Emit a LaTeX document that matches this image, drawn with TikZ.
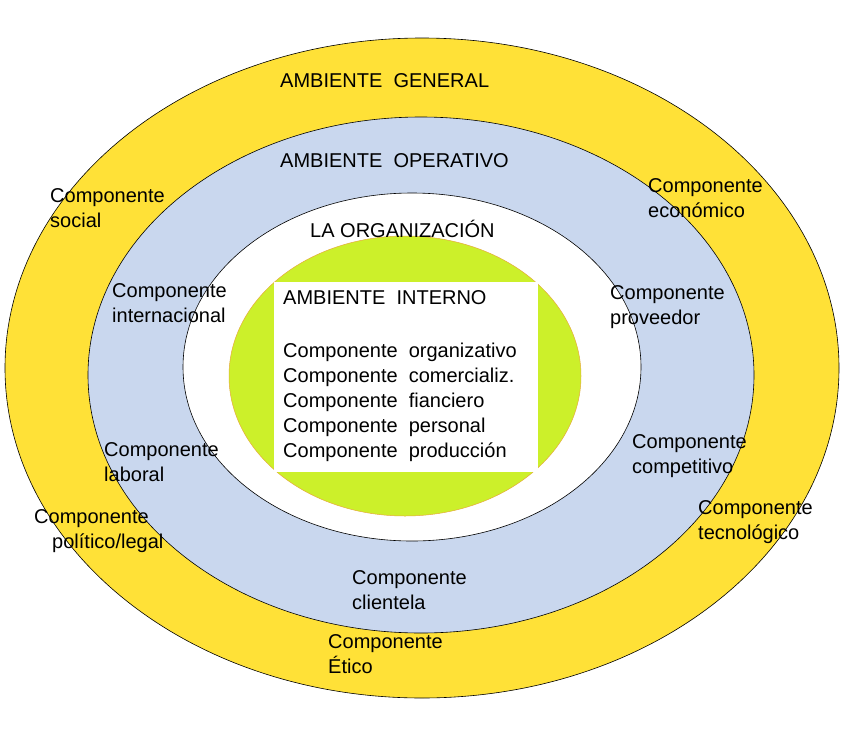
\documentclass[tikz,border=0pt]{standalone}
\usepackage{fontspec}
\setmainfont{Liberation Sans}
\begin{document}
\begin{tikzpicture}[x=1pt,y=-1pt,
  lbl/.style={anchor=north west,align=left,inner sep=0pt,font=\fontsize{20}{25}\selectfont},
  ring/.style={draw=black,line width=0.6pt}]
\useasboundingbox (0,0) rectangle (854,750);
\fill[white] (0,0) rectangle (854,750);
\draw[ring,fill={rgb,255:red,255;green,225;blue,55}] (422,368) ellipse [x radius=417,y radius=330];
\draw[ring,fill={rgb,255:red,201;green,215;blue,238}] (421,375) ellipse [x radius=333,y radius=258];
\draw[ring,fill=white] (412,367) ellipse [x radius=229,y radius=174];
\draw[draw={rgb,255:red,230;green,170;blue,60},line width=0.5pt,fill={rgb,255:red,204;green,240;blue,42}] (405,376) ellipse [x radius=176,y radius=140];
\fill[white] (274,282) rectangle (538,472);
\node[lbl] (ag) at (280,73) {AMBIENTE\ \ GENERAL};
\node[lbl] (ao) at (280,153) {AMBIENTE\ \ OPERATIVO};
\node[lbl] (lo) at (310,220) {LA ORGANIZACIÓN};
\node[lbl] (ai) at (283,290) {AMBIENTE\ \ INTERNO\\[1.4em]
Componente\ \ organizativo\\Componente\ \ comercializ.\\Componente\ \ fianciero\\Componente\ \ personal\\Componente\ \ producción};
\node[lbl] (cs) at (50,188) {Componente\\social};
\node[lbl] (ce) at (648,178) {Componente\\económico};
\node[lbl] (ci) at (112,283) {Componente\\internacional};
\node[lbl] (cp) at (610,285) {Componente\\proveedor};
\node[lbl] (cl) at (104,442) {Componente\\laboral};
\node[lbl] (cc) at (632,434) {Componente\\competitivo};
\node[lbl] (ct) at (698,500) {Componente\\tecnológico};
\node[lbl] (cpl) at (34,509) {Componente\\\hspace*{18pt}político/legal};
\node[lbl] (ccl) at (352,570) {Componente\\clientela};
\node[lbl] (cet) at (328,634) {Componente\\Ético};
\end{tikzpicture}
\end{document}
